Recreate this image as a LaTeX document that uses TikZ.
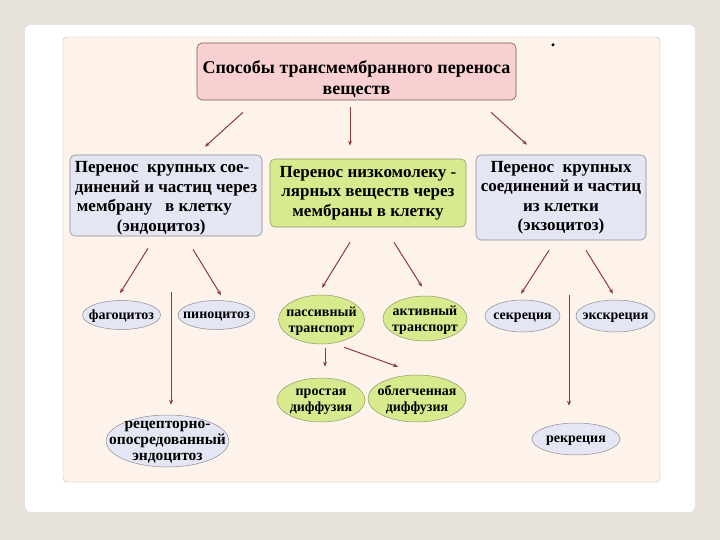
\documentclass[tikz,border=0pt]{standalone}
\usepackage{fontspec}
\setmainfont{Liberation Serif}
\usetikzlibrary{arrows.meta,shapes.geometric}
\definecolor{pagegray}{HTML}{E6E2DB}
\definecolor{panelfill}{HTML}{FDF3EB}
\definecolor{panelline}{HTML}{C9B4B4}
\definecolor{titlefill}{HTML}{F8D0D1}
\definecolor{titleline}{HTML}{7A5656}
\definecolor{lavfill}{HTML}{E4E6F4}
\definecolor{lavline}{HTML}{8C8C96}
\definecolor{greenfill}{HTML}{D7EA8E}
\definecolor{greenline}{HTML}{8E9A6A}
\definecolor{arrowred}{HTML}{8C3B3B}

\begin{document}
\begin{tikzpicture}[x=1pt, y=-1pt,
    box/.style={draw=lavline, rounded corners=5pt, line width=0.6pt, inner sep=0pt,
        align=center, font=\bfseries\fontsize{17}{19.5}\selectfont},
    oval/.style={ellipse, draw=lavline, fill=lavfill, line width=0.5pt, inner xsep=-15pt, inner ysep=-6pt,
        text depth=-3pt, align=center, font=\bfseries\fontsize{14}{16.5}\selectfont},
    arr/.style={draw=arrowred, line width=1pt, -{Stealth[length=5pt,width=4pt]}}]
    % page and panel
    \fill[pagegray] (0, 0) rectangle (720, 540);
    \fill[white, rounded corners=6pt] (25, 25) rectangle (695, 512);
    \draw[panelline, fill=panelfill, rounded corners=4pt] (63, 37) rectangle (660, 482);
    \node[font=\bfseries\fontsize{18}{18}\selectfont] (dot) at (553, 45) {.};

    % first level
    \node[box, fill=titlefill, draw=titleline, minimum width=319pt, minimum height=57pt,
        font=\bfseries\fontsize{18}{21}\selectfont] (title) at (356.5, 71.5)
        {\rule{0pt}{29pt}Способы трансмембранного переноса\\веществ};
    \node[box, fill=lavfill, minimum width=192pt, minimum height=81pt, align=left] (endo) at (166, 195.5)
        {\rule{0pt}{17pt}Перенос\ \ крупных сое-\\динений и частиц через\\\hspace*{2pt}мембрану\ \ \ в клетку\\\hspace*{42pt}(эндоцитоз)};
    \node[box, fill=greenfill, draw=greenline, minimum width=196pt, minimum height=68pt] (low) at (368, 193)
        {Перенос низкомолеку -\\лярных веществ через\\мембраны в клетку};
    \node[box, fill=lavfill, minimum width=170pt, minimum height=85pt] (exo) at (561, 197.5)
        {Перенос\ \ крупных\\соединений и частиц\\из клетки\\(экзоцитоз)};

    % second level
    \foreach \n/\x/\y/\w/\h/\t in {fago/121.5/315/78/29/фагоцитоз, pino/216.5/315/77/29/пиноцитоз,
        sekr/522.5/316/75/32/секреция, ekskr/615.5/316/79/32/экскреция, rekr/576/439/88/32/рекреция}{
        \node[oval, minimum width=\w pt, minimum height=\h pt] (\n) at (\x, \y) {\t};
    }
    \node[oval, minimum width=121pt, minimum height=52pt, font=\bfseries\fontsize{15.5}{16}\selectfont] (recep) at (167.5, 441)
        {рецепторно-\\опосредованный\\эндоцитоз};
    \foreach \n/\x/\y/\w/\h/\t in {pass/321.5/319.5/86/49/{пассивный\\транспорт},
        akt/425/318.5/84/45/{активный\\транспорт}, prost/321/400/88/44/{простая\\диффузия},
        obl/417/398.5/98/47/{облегченная\\диффузия}}{
        \node[oval, fill=greenfill, draw=greenline, minimum width=\w pt, minimum height=\h pt] (\n) at (\x, \y) {\t};
    }

    % arrows
    \draw[arr] ([shift={(-113.5, 12)}]title.south) -- ([shift={(39, -8)}]endo.north);
    \draw[arr] ([shift={(-6.5, 7)}]title.south) -- ([shift={(-18, -13)}]low.north);
    \draw[arr] ([shift={(134.5, 12)}]title.south) -- ([shift={(-34, -10)}]exo.north);
    \draw[arr] ([shift={(-18, 12)}]endo.south) -- ([shift={(-1.5, -7)}]fago.north);
    \draw[arr] ([shift={(27, 13)}]endo.south) -- ([shift={(4.5, -5)}]pino.north);
    \draw[arr, line width=0.6pt] ([shift={(5, 56)}]endo.south) -- ([shift={(3.5, -10)}]recep.north);
    \draw[arr] ([shift={(-18, 15)}]low.south) -- ([shift={(0.5, -7)}]pass.north);
    \draw[arr] ([shift={(26, 15)}]low.south) -- ([shift={(-3, -9)}]akt.north);
    \draw[arr] ([shift={(3.5, 4)}]pass.south) -- ([shift={(4, -11)}]prost.north);
    \draw[arr] ([shift={(22.5, 3)}]pass.south) -- ([shift={(-19, -8)}]obl.north);
    \draw[arr] ([shift={(-12, 10)}]exo.south) -- ([shift={(-1.5, -6)}]sekr.north);
    \draw[arr] ([shift={(25, 10)}]exo.south) -- ([shift={(-2.5, -6)}]ekskr.north);
    \draw[arr, line width=0.6pt] ([shift={(8, 55)}]exo.south) -- ([shift={(-7, -17)}]rekr.north);
\end{tikzpicture}
\end{document}
